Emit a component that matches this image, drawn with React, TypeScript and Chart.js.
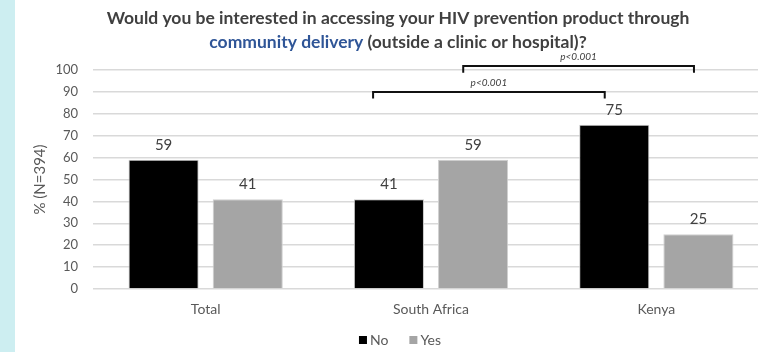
import React, { useEffect, useRef } from "react";
import { Chart, registerables } from "chart.js";

Chart.register(...registerables);

const categories = ["Total", "South Africa", "Kenya"];
const seriesNames = ["No", "Yes"];
const noValues = [59, 41, 75];
const yesValues = [41, 59, 25];
const yMin = 0;
const yMax = 100;
const yStep = 10;
const titleLine1 = "Would you be interested in accessing your HIV prevention product through";
const titleHighlight = "community delivery";
const titleRest = " (outside a clinic or hospital)?";
const yAxisTitle = "% (N=394)";
// significance brackets in data coordinates (category index, value)
const bracketFrom = [0.743, 1.143];
const bracketTo = [1.771, 2.167];
const bracketLevel = [90, 101.8];
const bracketLabels = ["p<0.001", "p<0.001"];

const FONT = "Lato, 'Open Sans', sans-serif";
const TEXT = "#595959";

export default function App() {
  const ref = useRef<HTMLCanvasElement | null>(null);

  useEffect(() => {
    const canvas = ref.current;
    if (!canvas) return;

    const overlay = {
      id: "overlay",
      afterDraw(chart: any) {
        const ctx = chart.ctx as CanvasRenderingContext2D;
        const xs = chart.scales.x;
        const ys = chart.scales.y;
        ctx.save();
        // title
        const cx = 398;
        ctx.textBaseline = "middle";
        ctx.font = `bold 17.5px ${FONT}`;
        ctx.fillStyle = "#404040";
        ctx.textAlign = "center";
        ctx.fillText(titleLine1, cx, 18);
        const w1 = ctx.measureText(titleHighlight).width;
        const w2 = ctx.measureText(titleRest).width;
        let sx = cx - (w1 + w2) / 2;
        ctx.textAlign = "left";
        ctx.fillStyle = "#2F5597";
        ctx.fillText(titleHighlight, sx, 42);
        ctx.fillStyle = "#404040";
        ctx.fillText(titleRest, sx + w1, 42);

        // data labels
        ctx.font = `15px ${FONT}`;
        ctx.fillStyle = "#404040";
        ctx.textAlign = "center";
        chart.data.datasets.forEach((ds: any, di: number) => {
          const meta = chart.getDatasetMeta(di);
          meta.data.forEach((bar: any, i: number) => {
            ctx.fillText(String(ds.data[i]), bar.x, bar.y - 15);
          });
        });

        // brackets
        const p0 = xs.getPixelForValue(0);
        const p1 = xs.getPixelForValue(1);
        const toX = (v: number) => p0 + (p1 - p0) * v;
        ctx.strokeStyle = "#111";
        ctx.lineWidth = 2;
        for (let k = 0; k < bracketFrom.length; k++) {
          const xa = toX(bracketFrom[k]);
          const xb = toX(bracketTo[k]);
          const y = ys.getPixelForValue(bracketLevel[k]);
          const yt = ys.getPixelForValue(bracketLevel[k] - 3);
          ctx.beginPath();
          ctx.moveTo(xa, yt);
          ctx.lineTo(xa, y);
          ctx.lineTo(xb, y);
          ctx.lineTo(xb, yt);
          ctx.stroke();
          ctx.font = `italic 10px ${FONT}`;
          ctx.fillStyle = "#404040";
          ctx.textAlign = "center";
          ctx.fillText(bracketLabels[k], (xa + xb) / 2, y - 9);
        }

        // legend
        ctx.font = `14px ${FONT}`;
        ctx.textAlign = "left";
        const colors = chart.data.datasets.map((d: any) => d.backgroundColor);
        const sq = 8;
        const gapText = 3;
        const gapItem = 21;
        const widths = seriesNames.map((n) => sq + gapText + ctx.measureText(n).width);
        const total = widths.reduce((a, b) => a + b, 0) + gapItem * (seriesNames.length - 1);
        let lx = 400 - total / 2;
        const ly = 340;
        seriesNames.forEach((n, i) => {
          ctx.fillStyle = colors[i];
          ctx.fillRect(lx, ly - sq / 2, sq, sq);
          ctx.fillStyle = TEXT;
          ctx.fillText(n, lx + sq + gapText, ly);
          lx += widths[i] + gapItem;
        });
        ctx.restore();
      },
    };

    const chart = new Chart(canvas, {
      type: "bar",
      data: {
        labels: categories,
        datasets: [
          {
            label: seriesNames[0],
            data: noValues,
            backgroundColor: "#000000",
            borderColor: "#c8c8c8",
            borderWidth: 1,
            categoryPercentage: 0.747,
            barPercentage: 0.833,
          },
          {
            label: seriesNames[1],
            data: yesValues,
            backgroundColor: "#A5A5A5",
            borderColor: "#d0d0d0",
            borderWidth: 1,
            categoryPercentage: 0.747,
            barPercentage: 0.833,
          },
        ],
      },
      options: {
        animation: false,
        responsive: false,
        maintainAspectRatio: false,
        devicePixelRatio: 1,
        layout: { padding: { left: 0, right: 6, top: 70, bottom: 0 } },
        plugins: {
          legend: { display: false },
          title: { display: false },
          tooltip: { enabled: false },
        },
        scales: {
          x: {
            grid: { display: false },
            border: { display: false },
            ticks: {
              color: TEXT,
              font: { family: FONT, size: 14 },
              padding: 4,
            },
            afterFit(scale: any) {
              scale.height = 63;
            },
          },
          y: {
            min: yMin,
            max: yMax,
            ticks: {
              stepSize: yStep,
              color: TEXT,
              font: { family: FONT, size: 13 },
              padding: 15,
            },
            grid: { color: "#d9d9d9", lineWidth: 1.5, drawTicks: false },
            border: { display: false },
            title: {
              display: true,
              text: yAxisTitle,
              color: TEXT,
              font: { family: FONT, size: 15 },
              padding: { top: 31, bottom: 0 },
            },
            afterFit(scale: any) {
              scale.width = 93;
            },
          },
        },
      },
      plugins: [overlay],
    });
    return () => chart.destroy();
  }, []);

  return (
    <div
      style={{
        position: "fixed",
        left: 0,
        top: 0,
        width: 758,
        height: 352,
        overflow: "hidden",
        background: "#ffffff",
      }}
    >
      <canvas
        ref={ref}
        width={775}
        height={352}
        style={{ position: "absolute", left: 0, top: 0, width: 775, height: 352 }}
      />
      <div
        style={{
          position: "absolute",
          left: 0,
          top: 0,
          width: 15,
          height: 352,
          background: "#CDEEF1",
        }}
      />
    </div>
  );
}
